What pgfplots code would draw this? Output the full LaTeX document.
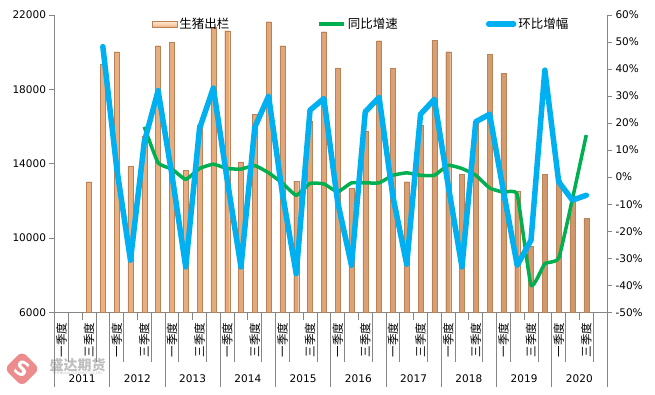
\documentclass[border=0pt]{standalone}
\usepackage{fontspec}
\setmainfont{DejaVu Sans}
\newfontfamily\cjk{Noto Sans CJK SC}
\usepackage{pgfplots}
\pgfplotsset{compat=1.18}
\definecolor{axgray}{HTML}{868686}
\definecolor{barmid}{HTML}{FAD2AE}
\definecolor{barleft}{HTML}{EDB283}
\definecolor{barright}{HTML}{CF966B}
\definecolor{baredge}{HTML}{B98257}
\definecolor{grn}{HTML}{00B050}
\definecolor{blu}{HTML}{00B0F0}
\definecolor{logored}{HTML}{EC8C8C}

\pgfplotsset{
  linelegend/.style={legend image code/.code={\draw[##1] (0pt,0pt) -- (25pt,0pt);}},
  barlegend/.style={legend image code/.code={\draw[##1] (0pt,-2.8pt) rectangle (25pt,2.8pt);}},
}

\pgfplotstableread{
k v
2 13030
3 19345
4 20025
5 13870
6 15485
7 20350
8 20530
9 13655
10 16080
11 21340
12 21155
13 14100
14 16670
15 21640
16 20350
17 13060
18 16300
19 21100
20 19160
21 12670
22 15740
23 20620
24 19130
25 13030
26 16070
27 20650
28 20030
29 13420
30 16200
31 19880
32 18860
33 12540
34 9560
35 13420
36 13100
37 12000
38 11050
}\bardata

\pgfplotstableread{
k v
6 18.6
7 5.3
8 3.0
9 -0.8
10 3.2
11 4.8
12 3.2
13 3.0
14 4.3
15 1.6
16 -2.2
17 -6.7
18 -2.3
19 -2.5
20 -5.4
21 -2.1
22 -2.1
23 -2.1
24 0.7
25 1.6
26 0.7
27 0.7
28 4.4
29 3.2
30 0.7
31 -4.0
32 -5.6
33 -6.5
34 -40.0
35 -32.0
36 -30.0
37 -8.0
38 15.6
}\yoydata

\pgfplotstableread{
k v
3 48.3
4 3.5
5 -30.7
6 13.0
7 32.0
8 0.9
9 -33.2
10 18.0
11 33.0
12 -0.9
13 -33.2
14 18.5
15 30.0
16 -6.0
17 -35.7
18 24.8
19 29.1
20 -9.2
21 -32.6
22 24.2
23 29.5
24 -7.2
25 -32.2
26 23.3
27 28.8
28 -3.0
29 -33.2
30 20.5
31 23.3
32 -5.1
33 -32.6
34 -23.3
35 39.6
36 -1.7
37 -8.5
38 -6.7
}\qoqdata

\begin{document}
\begin{tikzpicture}[x=1pt,y=1pt]
\path[use as bounding box] (-54.5,-81.7) rectangle (600.5,312.3);

% watermark
\node[fill=logored, rounded corners=6pt, rotate=45, minimum size=25pt, inner sep=0pt] at (-32.5,-56.5) {};
\node[white, font=\bfseries\fontsize{20}{20}\selectfont, rotate=-30] at (-32.5,-56.5) {S};
\node[gray!50, font=\cjk\bfseries\fontsize{14}{15}\selectfont] at (23,-52.5) {盛达期货};
\node[gray!50, font=\fontsize{3.5}{4}\selectfont] at (23,-61) {SHENGDA FUTURES CO.,LTD};

\begin{axis}[at={(0,0)}, anchor=south west, scale only axis,
  width=552.5pt, height=297.3pt,
  xmin=-0.5, xmax=39.5, ymin=6000, ymax=22000,
  axis x line*=bottom, axis y line*=left,
  axis line style={axgray, line width=0.8pt},
  xtick=\empty,
  ytick={6000,10000,14000,18000,22000},
  yticklabels={6000,10000,14000,18000,22000},
  scaled y ticks=false,
  tick align=outside, major tick length=5pt,
  tick style={axgray, line width=0.8pt},
  yticklabel style={font=\fontsize{10.5}{12}\selectfont, black},
  ybar, bar width=5pt, bar shift=0pt,
]
\addplot[draw=baredge, line width=0.2pt, left color=barleft, middle color=barmid, right color=barright] table[x=k, y=v] {\bardata};
\end{axis}

\begin{axis}[at={(0,0)}, anchor=south west, scale only axis,
  width=552.5pt, height=297.3pt,
  xmin=-0.5, xmax=39.5, ymin=-50, ymax=60,
  axis x line=none, axis y line*=right,
  axis line style={axgray, line width=0.8pt},
  ytick={-50,-40,-30,-20,-10,0,10,20,30,40,50,60},
  yticklabels={-50\%,-40\%,-30\%,-20\%,-10\%,0\%,10\%,20\%,30\%,40\%,50\%,60\%},
  scaled y ticks=false,
  tick align=outside, major tick length=5pt,
  tick style={axgray, line width=0.8pt},
  yticklabel style={font=\fontsize{10.5}{12}\selectfont, black},
  legend columns=3,
  legend cell align=left,
  linelegend,
  legend style={at={(0.1765,0.997)}, anchor=north west, draw=none, fill=none,
    inner sep=0pt, font=\cjk\fontsize{12.5}{14}\selectfont,
    /tikz/every odd column/.append style={column sep=0pt},
    /tikz/every even column/.append style={column sep=86pt}},
]
\addlegendimage{barlegend, draw=baredge, line width=0.2pt, top color=barmid!50!white, bottom color=barleft, middle color=barmid}
\addlegendentry{生猪出栏}
\addplot[grn, line width=3.5pt, smooth, tension=0.25, line join=round] table[x=k, y=v] {\yoydata};
\addlegendentry{同比增速}
\addplot[blu, line width=5.5pt, line join=round, line cap=round] table[x=k, y=v] {\qoqdata};
\addlegendentry{环比增幅}
\end{axis}

% category axis decorations
\foreach \i in {0,...,40} \draw[axgray, line width=0.8pt] ({13.8125*\i},0) -- ++(0,-8);
\foreach \i in {0,...,10} \draw[axgray, line width=0.8pt] ({55.25*\i},0) -- ++(0,-74.7);
\foreach \i in {0,...,9} {
  \draw[axgray, line width=0.8pt] ({55.25*\i+13.8125},0) -- ++(0,-49.7);
  \draw[axgray, line width=0.8pt] ({55.25*\i+41.4375},0) -- ++(0,-49.7);
  \node[rotate=90, anchor=east, inner sep=0pt, font=\cjk\fontsize{11.5}{12}\selectfont] at ({55.25*\i+6.9},-10) {一季度};
  \node[rotate=90, anchor=east, inner sep=0pt, font=\cjk\fontsize{11.5}{12}\selectfont] at ({55.25*\i+34.5},-10) {三季度};
}
\foreach \y [count=\i from 0] in {2011,2012,2013,2014,2015,2016,2017,2018,2019,2020}
  \node[font=\fontsize{10.5}{12}\selectfont] at ({55.25*\i+27.6},-66.7) {\y};
\end{tikzpicture}
\end{document}
